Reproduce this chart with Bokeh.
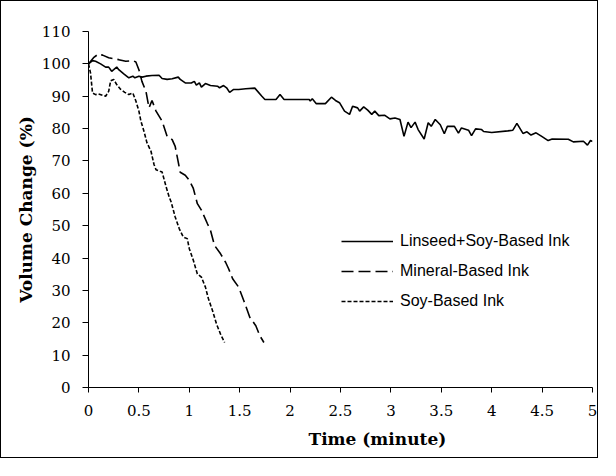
from bokeh.plotting import figure
from bokeh.models import Legend, LegendItem, Title, FixedTicker, Range1d
from bokeh.embed import file_html
from bokeh.resources import INLINE

# ---- data ----
linseed_x = [0, 0.04, 0.07, 0.12, 0.17, 0.20, 0.23, 0.25, 0.28, 0.30, 0.35, 0.40, 0.44, 0.46,
             0.50, 0.53, 0.57, 0.63, 0.70, 0.73, 0.78, 0.83, 0.89, 0.91, 0.96, 1.02, 1.05, 1.07,
             1.10, 1.12, 1.16, 1.21, 1.28, 1.30, 1.34, 1.37, 1.40, 1.44, 1.49, 1.56, 1.65, 1.72,
             1.75, 1.86, 1.90, 1.94, 2.19, 2.20, 2.22, 2.26, 2.35, 2.41, 2.45, 2.49, 2.54, 2.59,
             2.62, 2.67, 2.69, 2.73, 2.77, 2.81, 2.84, 2.88, 2.94, 2.99, 3.04, 3.09, 3.13, 3.17,
             3.20, 3.24, 3.27, 3.33, 3.37, 3.40, 3.44, 3.49, 3.53, 3.56, 3.63, 3.67, 3.70, 3.77,
             3.80, 3.84, 3.90, 3.92, 4.00, 4.16, 4.21, 4.25, 4.31, 4.35, 4.39, 4.44, 4.50, 4.56,
             4.60, 4.76, 4.81, 4.91, 4.95, 4.98, 5.00]
linseed_y = [100.0, 101.0, 100.8, 100.0, 99.0, 99.0, 97.7, 98.2, 99.0, 98.2, 96.9, 95.7, 96.2, 95.7,
             96.2, 95.9, 96.2, 96.4, 96.5, 95.5, 95.2, 95.4, 95.9, 95.2, 94.1, 94.1, 94.6, 93.4,
             94.1, 92.8, 93.9, 93.3, 93.1, 92.6, 93.3, 92.6, 91.2, 92.1, 92.1, 92.3, 92.5, 90.0,
             89.0, 89.0, 90.5, 89.0, 89.0, 88.5, 89.2, 87.7, 87.7, 89.7, 88.7, 88.0, 85.4, 84.4,
             86.9, 86.4, 85.4, 86.7, 85.7, 84.4, 85.4, 84.0, 84.1, 83.0, 83.3, 82.8, 77.6, 82.0,
             80.3, 82.0, 79.7, 76.8, 81.8, 80.7, 82.8, 81.2, 78.4, 80.7, 80.7, 78.6, 80.2, 79.5,
             77.8, 79.9, 79.7, 79.1, 78.8, 79.3, 79.5, 81.6, 78.5, 79.0, 78.0, 78.7, 77.5, 76.3,
             76.8, 76.7, 75.9, 76.1, 74.9, 76.3, 76.0]

mineral_x = [0, 0.05, 0.10, 0.14, 0.20, 0.30, 0.37, 0.44, 0.47, 0.50, 0.53, 0.57, 0.60, 0.63,
             0.67, 0.73, 0.78, 0.83, 0.86, 0.91, 0.96, 1.00, 1.04, 1.08, 1.12, 1.18, 1.21,
             1.25, 1.31, 1.36, 1.39, 1.43, 1.49, 1.54, 1.60, 1.66, 1.70, 1.74]
mineral_y = [100.0, 101.9, 103.1, 102.7, 101.9, 101.3, 100.8, 101.0, 100.6, 98.2, 94.6, 91.5, 86.4,
             88.7, 85.4, 82.3, 77.6, 76.6, 74.5, 66.5, 65.6, 64.0, 61.5, 56.8, 54.8, 50.6, 48.6,
             43.9, 41.3, 38.7, 36.7, 33.6, 31.0, 26.9, 21.7, 19.1, 16.0, 13.9]

soy_x = [0, 0.02, 0.04, 0.07, 0.10, 0.17, 0.20, 0.22, 0.25, 0.28, 0.32, 0.36, 0.40, 0.44,
         0.47, 0.50, 0.52, 0.55, 0.58, 0.62, 0.65, 0.67, 0.71, 0.73, 0.77, 0.80, 0.82, 0.86,
         0.90, 0.94, 0.98, 1.00, 1.04, 1.08, 1.12, 1.16, 1.19, 1.23, 1.27, 1.31, 1.35]
soy_y = [100.0, 97.2, 91.0, 90.5, 90.7, 90.0, 91.5, 94.8, 95.2, 93.6, 92.1, 91.2, 90.5, 91.0,
         88.5, 85.4, 82.3, 79.2, 75.6, 73.0, 68.9, 67.3, 66.8, 66.6, 62.0, 58.9, 57.3, 52.7,
         49.1, 46.5, 46.0, 42.9, 39.3, 35.1, 34.1, 31.0, 27.4, 23.8, 19.6, 16.5, 13.9]

series_names = ["Linseed+Soy-Based Ink", "Mineral-Based Ink", "Soy-Based Ink"]

x_ticks = [0, 0.5, 1, 1.5, 2, 2.5, 3, 3.5, 4, 4.5, 5]
x_tick_labels = ["0", "0.5", "1", "1.5", "2", "2.5", "3", "3.5", "4", "4.5", "5"]
y_ticks = [0, 10, 20, 30, 40, 50, 60, 70, 80, 90, 100, 110]
y_tick_labels = ["0", "10", "20", "30", "40", "50", "60", "70", "80", "90", "100", "110"]

# ---- figure ----
p = figure(width=598, height=458, x_range=Range1d(0, 5), y_range=Range1d(0, 110),
           output_backend="svg", toolbar_location=None,
           min_border_left=87, min_border_right=7, min_border_top=30, min_border_bottom=72)
p.styles = {"border": "1px solid #000000"}
p.background_fill_color = "white"
p.border_fill_color = "white"
p.outline_line_color = None
p.grid.visible = False

serif = "DejaVu Serif"
for ax in (p.xaxis[0], p.yaxis[0]):
    ax.axis_line_color = "#000000"
    ax.axis_line_width = 1
    ax.major_tick_line_color = "#000000"
    ax.major_tick_in = 0
    ax.minor_tick_line_color = None
    ax.major_label_text_font = serif
    ax.major_label_text_font_size = "15px"
    ax.major_label_text_color = "#000000"

p.xaxis.ticker = FixedTicker(ticks=x_ticks)
p.xaxis.major_label_overrides = {t: l for t, l in zip(x_ticks, x_tick_labels)}
p.xaxis.major_tick_out = 5
p.xaxis.major_label_standoff = 12

p.yaxis.ticker = FixedTicker(ticks=y_ticks)
p.yaxis.major_label_overrides = {t: l for t, l in zip(y_ticks, y_tick_labels)}
p.yaxis.major_tick_out = 6
p.yaxis.major_label_standoff = 12
p.yaxis.axis_label = "Volume Change (%)"
p.yaxis.axis_label_text_font = serif
p.yaxis.axis_label_text_font_style = "bold"
p.yaxis.axis_label_text_font_size = "17px"
p.yaxis.axis_label_text_color = "#000000"
p.yaxis.axis_label_standoff = 3

r1 = p.line(linseed_x, linseed_y, line_color="#000000", line_width=1.6)
r2 = p.line(mineral_x, mineral_y, line_color="#000000", line_width=1.6, line_dash="12 5")
r3 = p.line(soy_x, soy_y, line_color="#000000", line_width=1.6, line_dash="4 2")

legend = Legend(items=[LegendItem(label=series_names[0], renderers=[r1]),
                       LegendItem(label=series_names[1], renderers=[r2]),
                       LegendItem(label=series_names[2], renderers=[r3])],
                location=(253, 76), orientation="vertical",
                border_line_color=None, background_fill_alpha=0,
                padding=0, margin=0, spacing=10,
                glyph_width=52, glyph_height=20, label_height=20, label_standoff=7,
                label_text_font="Liberation Sans", label_text_font_size="16px",
                label_text_color="#000000")
p.add_layout(legend)

xtitle = Title(text="Time (minute)", align="left", offset=220, standoff=17,
               text_font=serif, text_font_style="bold", text_font_size="17px",
               text_color="#000000")
p.add_layout(xtitle, "below")

open("out.html", "w").write(file_html(p, INLINE))
